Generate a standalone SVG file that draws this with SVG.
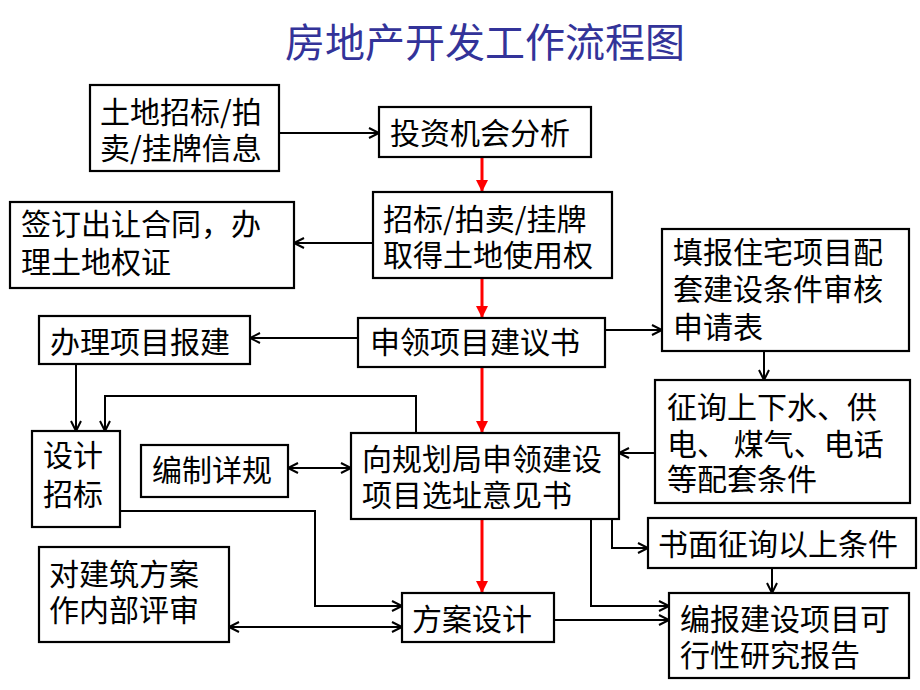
<svg xmlns="http://www.w3.org/2000/svg" width="920" height="690" viewBox="0 0 920 690">
<defs>
<style>
.box{fill:#fff;stroke:#000;stroke-width:2.2}
.t{font-family:"Noto Sans CJK SC","Noto Sans CJK TC",sans-serif;font-size:30px;fill:#000}
.title{font-family:"Noto Sans CJK SC",sans-serif;font-size:40px;fill:#333399}
.c{fill:none;stroke:#000;stroke-width:2}
.r{fill:none;stroke:#FF0000;stroke-width:3}
</style>
<marker id="a" markerUnits="userSpaceOnUse" markerWidth="14" markerHeight="14" refX="11" refY="6" orient="auto-start-reverse" viewBox="0 0 14 12">
<path d="M1,1 L11,6 L1,11" fill="none" stroke="#000" stroke-width="2"/>
</marker>
<marker id="ra" markerUnits="userSpaceOnUse" markerWidth="14" markerHeight="14" refX="12" refY="6" orient="auto" viewBox="0 0 14 12">
<path d="M0,0 L12,6 L0,12 z" fill="#FF0000"/>
</marker>
</defs>
<rect width="920" height="690" fill="#fff"/>
<text class="title" x="485" y="57" text-anchor="middle">房地产开发工作流程图</text>

<g id="connectors">
<line class="c" x1="279" y1="133" x2="379" y2="133" marker-end="url(#a)"/>
<line class="r" x1="482" y1="157" x2="482" y2="192" marker-end="url(#ra)"/>
<line class="c" x1="373" y1="243" x2="294" y2="243" marker-end="url(#a)"/>
<line class="r" x1="482" y1="278" x2="482" y2="318" marker-end="url(#ra)"/>
<line class="c" x1="358" y1="338" x2="250" y2="338" marker-end="url(#a)"/>
<line class="c" x1="605" y1="330" x2="662" y2="330" marker-end="url(#a)"/>
<line class="c" x1="764" y1="351" x2="764" y2="380" marker-end="url(#a)"/>
<line class="c" x1="655" y1="453" x2="619" y2="453" marker-end="url(#a)"/>
<line class="r" x1="482" y1="367" x2="482" y2="433" marker-end="url(#ra)"/>
<line class="c" x1="76" y1="364" x2="76" y2="431" marker-end="url(#a)"/>
<polyline class="c" points="416,433 416,396 105,396 105,431" marker-end="url(#a)"/>
<line class="c" x1="288" y1="468" x2="351" y2="468" marker-start="url(#a)" marker-end="url(#a)"/>
<polyline class="c" points="120,511 315,511 315,606 402,606" marker-end="url(#a)"/>
<line class="c" x1="229" y1="627" x2="402" y2="627" marker-start="url(#a)" marker-end="url(#a)"/>
<line class="r" x1="482" y1="519" x2="482" y2="593" marker-end="url(#ra)"/>
<polyline class="c" points="612,519 612,548 648,548" marker-end="url(#a)"/>
<polyline class="c" points="591,519 591,606 669,606" marker-end="url(#a)"/>
<line class="c" x1="554" y1="620" x2="669" y2="620" marker-end="url(#a)"/>
<line class="c" x1="772" y1="568" x2="772" y2="593" marker-end="url(#a)"/>
</g>

<g id="n1"><rect class="box" x="90" y="85" width="189" height="86"/>
<text class="t" x="100" y="123">土地招标/拍</text><text class="t" x="100" y="159">卖/挂牌信息</text></g>
<g id="n2"><rect class="box" x="379" y="107" width="212" height="50"/>
<text class="t" x="390" y="144">投资机会分析</text></g>
<g id="n3"><rect class="box" x="373" y="192" width="239" height="86"/>
<text class="t" x="383" y="230">招标/拍卖/挂牌</text><text class="t" x="383" y="266">取得土地使用权</text></g>
<g id="n4"><rect class="box" x="10" y="202" width="284" height="86"/>
<text class="t" x="21" y="235">签订出让合同，办</text><text class="t" x="21" y="273">理土地权证</text></g>
<g id="n5"><rect class="box" x="662" y="229" width="247" height="122"/>
<text class="t" x="673" y="263">填报住宅项目配</text><text class="t" x="673" y="300">套建设条件审核</text><text class="t" x="673" y="338">申请表</text></g>
<g id="n6"><rect class="box" x="39" y="316" width="211" height="48"/>
<text class="t" x="50" y="353">办理项目报建</text></g>
<g id="n7"><rect class="box" x="358" y="318" width="247" height="49"/>
<text class="t" x="370" y="353">申领项目建议书</text></g>
<g id="n8"><rect class="box" x="655" y="380" width="255" height="123"/>
<text class="t" x="667" y="418">征询上下水、供</text><text class="t" x="667" y="455" xml:space="preserve">电、 煤气、电话</text><text class="t" x="667" y="490">等配套条件</text></g>
<g id="n9"><rect class="box" x="32" y="431" width="88" height="96"/>
<text class="t" x="43" y="466">设计</text><text class="t" x="43" y="505">招标</text></g>
<g id="n10"><rect class="box" x="141" y="445" width="147" height="52"/>
<text class="t" x="152" y="481">编制详规</text></g>
<g id="n11"><rect class="box" x="351" y="433" width="268" height="86"/>
<text class="t" x="362" y="470">向规划局申领建设</text><text class="t" x="362" y="506">项目选址意见书</text></g>
<g id="n12"><rect class="box" x="648" y="518" width="268" height="50"/>
<text class="t" x="658" y="555">书面征询以上条件</text></g>
<g id="n13"><rect class="box" x="39" y="547" width="190" height="95"/>
<text class="t" x="49" y="585">对建筑方案</text><text class="t" x="49" y="621">作内部评审</text></g>
<g id="n14"><rect class="box" x="402" y="593" width="152" height="49"/>
<text class="t" x="412" y="630">方案设计</text></g>
<g id="n15"><rect class="box" x="669" y="593" width="240" height="85"/>
<text class="t" x="680" y="630">编报建设项目可</text><text class="t" x="680" y="666">行性研究报告</text></g>
</svg>
